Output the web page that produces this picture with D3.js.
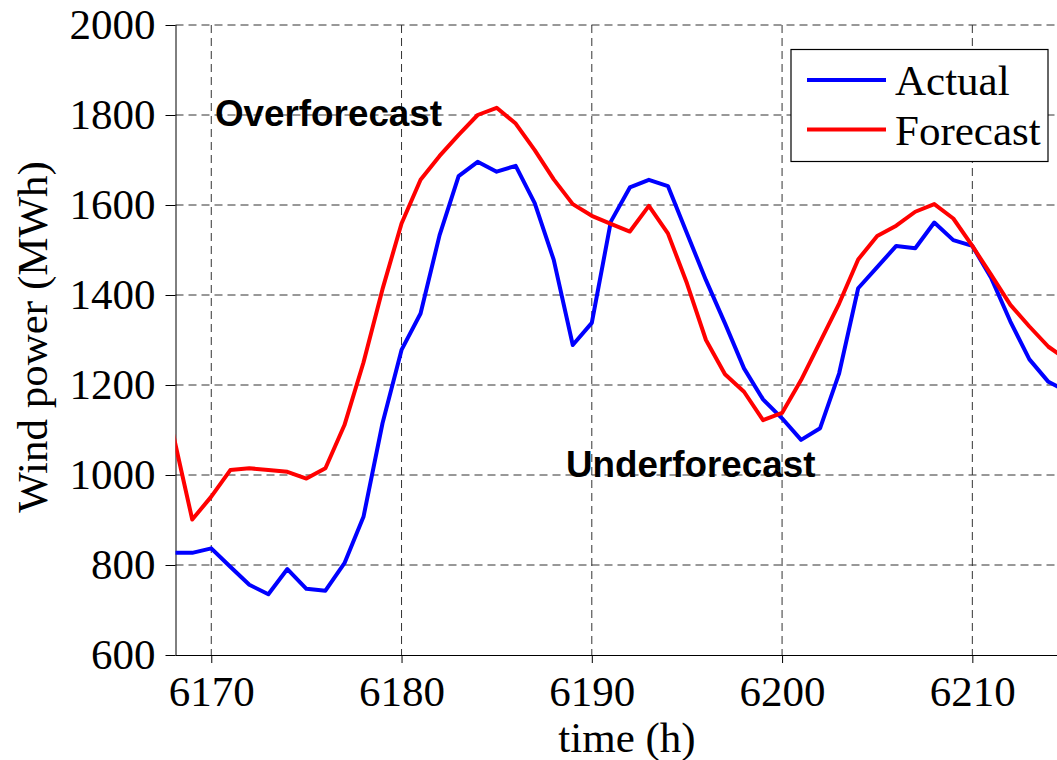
<!DOCTYPE html>
<html>
<head>
<meta charset="utf-8">
<script src="https://cdn.jsdelivr.net/npm/d3@7"></script>
<style>
  body { margin: 0; background: #fff; }
  svg { display: block; }
  .grid line { stroke: #333; stroke-width: 1; stroke-dasharray: 8,5; }
  .tick text { font-family: "Liberation Serif", "Times New Roman", serif; font-size: 43px; fill: #000; }
</style>
</head>
<body>
<svg id="chart"></svg>
<script>
var w = 1057;
var h = 760;

// hours shown on the x axis
var hours = [6168, 6169, 6170, 6171, 6172, 6173, 6174, 6175, 6176, 6177, 6178, 6179,
  6180, 6181, 6182, 6183, 6184, 6185, 6186, 6187, 6188, 6189,
  6190, 6191, 6192, 6193, 6194, 6195, 6196, 6197, 6198, 6199,
  6200, 6201, 6202, 6203, 6204, 6205, 6206, 6207, 6208, 6209,
  6210, 6211, 6212, 6213, 6214, 6215];
var actual = [827, 827, 837, 796, 756, 735, 791, 747, 743, 804, 907, 1115,
  1278, 1359, 1533, 1664, 1696, 1674, 1687, 1604, 1478, 1289,
  1338, 1563, 1639, 1656, 1642, 1537, 1433, 1337, 1237, 1168,
  1126, 1078, 1104, 1226, 1415, 1462, 1509, 1504, 1561, 1522,
  1509, 1437, 1341, 1257, 1207, 1185];
var forecast = [1090, 901, 952, 1011, 1015, 1011, 1007, 992, 1015, 1111, 1250, 1413,
  1559, 1656, 1709, 1756, 1800, 1816, 1781, 1722, 1657, 1602,
  1576, 1558, 1541, 1598, 1537, 1426, 1300, 1224, 1185, 1122,
  1138, 1211, 1296, 1381, 1479, 1531, 1554, 1585, 1602, 1570,
  1509, 1444, 1378, 1330, 1285, 1255];
var xTicks = [6170, 6180, 6190, 6200, 6210];
var yTicks = [600, 800, 1000, 1200, 1400, 1600, 1800, 2000];

let svg = d3.select("#chart")
    .attr("width", w)
    .attr("height", h);

let padLeft = 175.5, padTop = 25, padBottom = 655;

let xScale = d3.scaleLinear()
    .domain([6168.12, 6214.45])
    .range([padLeft, w]);
let yScale = d3.scaleLinear()
    .domain([600, 2000])
    .range([padBottom, padTop]);

// dashed grid
let grid = svg.append("g").attr("class", "grid");
grid.selectAll(".vg")
    .data(xTicks)
    .enter().append("line")
    .attr("x1", d => xScale(d)).attr("x2", d => xScale(d))
    .attr("y1", padTop).attr("y2", padBottom);
grid.selectAll(".hg")
    .data(yTicks.filter(d => d > 600))
    .enter().append("line")
    .attr("x1", padLeft).attr("x2", w)
    .attr("y1", d => yScale(d)).attr("y2", d => yScale(d));

// axes
let xAxis = d3.axisBottom(xScale)
    .tickValues(xTicks)
    .tickSize(8)
    .tickPadding(14)
    .tickFormat(d3.format("d"));
let yAxis = d3.axisLeft(yScale)
    .tickValues(yTicks)
    .tickSize(10)
    .tickPadding(10)
    .tickFormat(d3.format("d"));

let gx = svg.append("g")
    .attr("transform", `translate(0, ${padBottom})`)
    .call(xAxis);
gx.select(".domain").attr("d", `M${padLeft},0.5H${w}`).attr("stroke", "#000");
gx.selectAll(".tick text").attr("dy", "0.71em").attr("y", 20);

let gy = svg.append("g")
    .attr("transform", `translate(${padLeft}, 0)`)
    .call(yAxis);
gy.select(".domain").attr("d", `M0.5,${padTop}V${padBottom}`).attr("stroke", "#000");
gy.selectAll(".tick text").attr("x", -20);

// clip for the lines
svg.append("clipPath").attr("id", "clip")
    .append("rect")
    .attr("x", padLeft).attr("y", 0)
    .attr("width", w - padLeft).attr("height", h);

let line = d3.line()
    .x((d, i) => xScale(hours[i]))
    .y(d => yScale(d));

svg.append("path")
    .datum(actual)
    .attr("clip-path", "url(#clip)")
    .attr("fill", "none")
    .attr("stroke", "#0000ff")
    .attr("stroke-width", 4)
    .attr("stroke-linejoin", "round")
    .attr("d", line);
svg.append("path")
    .datum(forecast)
    .attr("clip-path", "url(#clip)")
    .attr("fill", "none")
    .attr("stroke", "#ff0000")
    .attr("stroke-width", 4)
    .attr("stroke-linejoin", "round")
    .attr("d", line);

// annotations
svg.append("text")
    .attr("x", 215).attr("y", 126)
    .attr("font-family", "Liberation Sans, Arial, sans-serif")
    .attr("font-weight", "bold")
    .attr("font-size", 36.8)
    .text("Overforecast");
svg.append("text")
    .attr("x", 566).attr("y", 477)
    .attr("font-family", "Liberation Sans, Arial, sans-serif")
    .attr("font-weight", "bold")
    .attr("font-size", 36.8)
    .text("Underforecast");

// axis titles
svg.append("text")
    .attr("transform", "translate(47, 337) rotate(-90)")
    .attr("text-anchor", "middle")
    .attr("font-family", "Liberation Serif, Times New Roman, serif")
    .attr("font-size", 43)
    .text("Wind power (MWh)");
svg.append("text")
    .attr("x", 627).attr("y", 752)
    .attr("text-anchor", "middle")
    .attr("font-family", "Liberation Serif, Times New Roman, serif")
    .attr("font-size", 43)
    .text("time (h)");

// legend
let legend = svg.append("g");
legend.append("rect")
    .attr("x", 791).attr("y", 49.5)
    .attr("width", 257).attr("height", 112)
    .attr("fill", "#fff")
    .attr("stroke", "#000")
    .attr("stroke-width", 1.2);
let items = [{name: "Actual", color: "#0000ff"}, {name: "Forecast", color: "#ff0000"}];
items.forEach((it, i) => {
    let y = 80 + i * 49.5;
    legend.append("line")
        .attr("x1", 807).attr("x2", 886)
        .attr("y1", y).attr("y2", y)
        .attr("stroke", it.color)
        .attr("stroke-width", 4);
    legend.append("text")
        .attr("x", 895).attr("y", y + 15)
        .attr("font-family", "Liberation Serif, Times New Roman, serif")
        .attr("font-size", 43)
        .text(it.name);
});
</script>
</body>
</html>
